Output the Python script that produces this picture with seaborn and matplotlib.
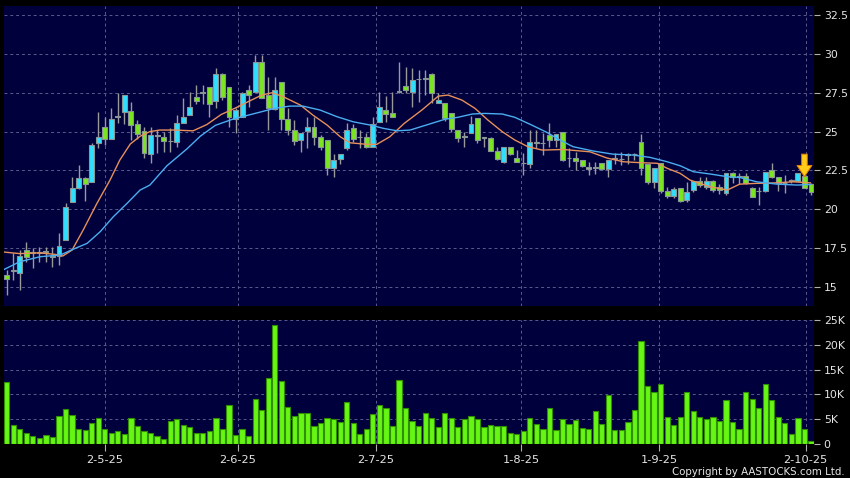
import numpy as np
import pandas as pd
import seaborn as sns
import matplotlib
matplotlib.use("Agg")
import matplotlib.pyplot as plt
from matplotlib.ticker import FuncFormatter

# daily candles (HKD), one per trading day
opens = [15.77, 16.05, 15.9, 17.38, 17.2, 17.2, 17.27, 16.95, 17.0, 18.02,
         20.5, 21.35, 21.99, 21.75, 24.28, 25.31, 24.5, 25.96, 26.24, 26.34,
         25.47, 25.05, 23.54, 24.71, 24.63, 24.37, 24.35, 25.53, 26.07, 27.24,
         27.48, 27.84, 26.97, 28.68, 27.88, 25.79, 25.96, 27.67, 27.53, 29.5,
         27.35, 26.43, 28.21, 25.79, 25.1, 24.46, 25.03, 25.27, 24.67, 24.46,
         22.64, 23.21, 23.92, 25.21, 24.63, 24.63, 24.03, 25.63, 26.39, 26.21,
         27.57, 27.95, 27.57, 28.36, 28.38, 28.7, 26.82, 26.82, 26.17, 25.1,
         24.67, 24.93, 25.85, 24.6, 24.57, 23.77, 23.06, 24.03, 23.28, 22.96,
         22.9, 24.28, 24.24, 24.78, 24.46, 24.95, 23.28, 23.28, 23.17, 22.7,
         22.67, 23.0, 22.57, 23.3, 23.21, 23.49, 23.54, 24.35, 22.91, 21.77,
         22.96, 21.17, 20.85, 21.35, 20.6, 21.24, 21.84, 21.45, 21.84, 21.45,
         21.07, 22.31, 22.1, 22.14, 21.35, 21.17, 21.2, 22.53, 22.06, 21.67,
         21.88, 21.84, 22.14, 21.6]
highs = [16.09, 17.2, 17.38, 17.9, 17.5, 17.57, 17.6, 17.6, 18.5, 20.4,
         22.1, 22.85, 22.1, 24.28, 26.28, 25.96, 26.5, 27.48, 27.35, 26.92,
         25.74, 25.31, 25.31, 25.1, 25.0, 25.23, 26.06, 27.14, 27.57, 28.0,
         28.0, 27.84, 29.07, 28.75, 27.88, 26.5, 27.57, 28.0, 29.93, 29.93,
         28.53, 28.53, 28.21, 26.5, 25.74, 24.9, 25.96, 25.96, 24.75, 24.46,
         23.55, 23.54, 25.53, 25.5, 25.1, 24.9, 25.96, 27.57, 27.3, 27.57,
         29.5, 29.17, 29.07, 28.96, 28.96, 28.75, 27.46, 26.85, 26.2, 25.1,
         25.0, 26.0, 25.85, 24.6, 24.67, 24.03, 24.03, 24.03, 23.81, 23.6,
         25.1, 25.1, 24.9, 25.53, 24.82, 24.95, 23.92, 23.7, 23.2, 23.06,
         23.06, 23.0, 23.17, 23.6, 23.7, 23.6, 23.6, 24.84, 22.91, 22.64,
         22.96, 21.45, 21.45, 21.35, 21.77, 21.84, 22.1, 22.05, 21.9, 21.6,
         22.35, 22.42, 22.31, 22.31, 21.45, 21.45, 22.38, 22.96, 22.06, 22.2,
         21.95, 22.35, 22.14, 21.7]
lows = [14.48, 15.45, 14.8, 16.6, 16.2, 16.6, 16.6, 16.3, 16.4, 18.0,
        20.5, 21.3, 20.55, 21.75, 23.92, 24.13, 24.5, 25.55, 25.5, 24.46,
        24.5, 23.28, 22.99, 23.6, 23.7, 23.7, 24.03, 25.53, 26.07, 26.8,
        26.8, 25.96, 26.5, 27.03, 25.31, 24.93, 25.96, 26.6, 27.53, 27.14,
        25.1, 26.39, 25.1, 24.78, 24.13, 23.7, 23.92, 24.13, 23.8, 22.2,
        22.1, 22.9, 23.81, 24.3, 23.92, 23.95, 24.03, 25.63, 25.63, 25.96,
        27.46, 27.46, 26.6, 26.92, 27.35, 26.84, 26.82, 25.7, 25.0, 24.35,
        23.99, 24.93, 24.24, 23.99, 23.77, 23.15, 23.0, 23.5, 23.06, 22.2,
        22.65, 23.92, 23.5, 24.03, 24.03, 23.1, 22.74, 22.53, 22.7, 22.2,
        22.3, 22.5, 22.1, 22.9, 22.85, 22.9, 23.2, 22.2, 21.6, 21.4,
        21.07, 20.7, 20.7, 20.45, 20.5, 21.13, 21.45, 21.3, 21.1, 21.0,
        20.95, 21.7, 21.6, 21.6, 20.81, 20.27, 21.1, 22.0, 21.2, 21.02,
        21.7, 21.8, 21.35, 20.92]
closes = [15.51, 16.05, 17.0, 16.93, 17.2, 17.2, 17.27, 17.02, 17.66, 20.16,
          21.4, 21.99, 21.6, 24.13, 24.67, 24.5, 25.79, 25.96, 27.35, 25.42,
          24.84, 23.6, 24.78, 24.71, 24.39, 24.37, 25.53, 25.96, 26.6, 26.97,
          27.48, 26.77, 28.7, 27.24, 25.96, 26.39, 27.46, 27.35, 29.5, 27.14,
          26.5, 27.67, 25.79, 25.1, 24.41, 24.89, 25.27, 24.67, 23.99, 22.64,
          23.17, 23.54, 25.1, 24.5, 24.63, 24.03, 25.49, 26.6, 26.11, 25.96,
          27.57, 27.7, 28.3, 28.36, 28.38, 27.46, 27.03, 25.85, 25.14, 24.57,
          24.67, 25.47, 24.46, 24.6, 23.77, 23.21, 24.03, 23.56, 23.06, 22.96,
          24.3, 24.28, 24.24, 24.46, 24.82, 23.17, 23.28, 23.13, 22.78, 22.62,
          22.67, 22.57, 23.17, 23.25, 23.21, 23.49, 23.54, 22.64, 21.77, 22.64,
          21.2, 20.85, 21.28, 20.55, 21.13, 21.84, 21.56, 21.84, 21.24, 21.24,
          22.35, 22.1, 22.1, 21.71, 20.81, 21.17, 22.38, 22.06, 21.67, 21.67,
          21.8, 22.35, 21.35, 21.13]
# volume in thousands of shares
volume_k = [12.5, 3.7, 3.0, 2.2, 1.5, 1.2, 1.7, 1.35, 5.5, 7.0,
            5.7, 2.85, 2.7, 4.1, 5.1, 2.85, 2.1, 2.6, 2.0, 5.1,
            3.5, 2.5, 2.2, 1.55, 0.9, 4.5, 4.9, 3.8, 3.4, 2.2,
            2.2, 2.6, 5.1, 2.85, 7.9, 1.7, 2.85, 1.5, 9.1, 6.75,
            13.3, 24.0, 12.7, 7.4, 5.6, 6.15, 6.2, 3.6, 4.2, 5.1,
            4.9, 4.3, 8.4, 4.1, 1.9, 2.9, 5.9, 7.8, 7.1, 3.6,
            12.8, 7.3, 4.6, 3.5, 6.1, 5.1, 3.25, 6.1, 5.1, 3.4,
            4.9, 5.5, 4.9, 3.4, 3.7, 3.45, 3.6, 2.2, 1.9, 2.6,
            5.1, 4.0, 3.0, 7.1, 2.7, 4.9, 3.9, 4.7, 3.1, 2.9,
            6.55, 3.95, 9.8, 2.7, 2.75, 4.4, 6.75, 20.8, 11.75, 10.4,
            12.0, 5.4, 3.7, 5.4, 10.4, 6.5, 5.4, 5.0, 5.4, 4.5,
            8.8, 4.4, 3.0, 10.5, 9.0, 7.2, 12.0, 8.85, 5.3, 4.1,
            1.9, 5.1, 2.9, 0.5]

# moving average lines, read at points along the curves (bar position, price)
ma_fast_pos = [-0.4, 2, 5, 7.4, 8.6, 10, 11.7, 13.8, 15.8, 17.3, 18.9, 20.4,
               21.9, 23.4, 25.7, 28.5, 30.6, 32.8, 34.9, 36.9, 39, 40.6, 42.3,
               44.9, 46.8, 49, 51, 52.5, 55.1, 56.6, 58.6, 60.8, 63.5, 66, 67.5,
               69.6, 71.6, 73.6, 75.8, 77.7, 79.7, 81.9, 85.1, 89.2, 91.8, 94.3,
               96.9, 99.5, 101, 103, 104.5, 107.6, 110.2, 112.1, 114.7, 117.5,
               120.3, 122.9]
ma_fast = [17.25, 17.15, 17.2, 17.1, 17.0, 17.38, 18.67, 20.38, 21.88, 23.17,
           24.2, 24.7, 25.0, 25.1, 25.1, 25.05, 25.45, 26.1, 26.5, 26.92,
           27.35, 27.5, 27.24, 26.71, 26.07, 25.42, 24.67, 24.28, 24.18, 24.18,
           24.67, 25.53, 26.39, 27.28, 27.35, 27.03, 26.5, 25.74, 24.99, 24.46,
           24.03, 23.81, 23.85, 23.7, 23.3, 23.06, 23.0, 22.96, 22.64, 22.31,
           21.88, 21.45, 21.24, 21.62, 21.67, 21.7, 21.77, 21.7]
ma_slow_pos = [-0.4, 2, 5.1, 8.2, 10.1, 12.3, 14.3, 16.3, 18.4, 20.4, 21.9,
               24.5, 27.6, 29.6, 31.9, 34.5, 36.4, 39, 41, 43.3, 45.3, 47.9,
               50.5, 53, 55.6, 57.6, 59.7, 61.7, 65, 67, 69, 71.2, 73.1, 75.8,
               77.7, 80.3, 82.6, 84.6, 86.6, 89.7, 92.7, 95.8, 98.4, 101, 103,
               105, 107.6, 110.2, 112.1, 114.7, 117.8, 120.9, 122.9]
ma_slow = [16.13, 16.63, 16.95, 17.06, 17.42, 17.81, 18.56, 19.52, 20.38,
           21.24, 21.56, 22.8, 23.9, 24.7, 25.4, 25.79, 26.0, 26.28, 26.5,
           26.64, 26.64, 26.39, 25.96, 25.63, 25.42, 25.21, 25.05, 25.1, 25.53,
           25.79, 25.92, 26.13, 26.17, 26.13, 25.92, 25.42, 24.95, 24.46, 24.03,
           23.75, 23.55, 23.49, 23.34, 23.06, 22.8, 22.42, 22.27, 22.1, 22.05,
           21.77, 21.62, 21.56, 21.6]

date_pos = [15, 35.3, 56.5, 78.7, 99.8, 122.2]
date_labels = ["2-5-25", "2-6-25", "2-7-25", "1-8-25", "1-9-25", "2-10-25"]
price_ticks = [15, 17.5, 20, 22.5, 25, 27.5, 30, 32.5]
vol_ticks = [0, 5, 10, 15, 20, 25]

BG = "#00003c"
GRID = "#5a5a8c"
TXT = "#e6e6e6"
UP = "#2ee0ff"
DOWN = "#7ae61e"
FLAT = "#a8a8a8"

df = pd.DataFrame({"open": opens, "high": highs, "low": lows,
                   "close": closes, "vol": volume_k})
df["idx"] = np.arange(len(df))
diff = df["close"] - df["open"]
df["color"] = np.where(diff >= 0.1, UP, np.where(diff <= -0.1, DOWN, FLAT))
df["body_lo"] = df[["open", "close"]].min(axis=1)
df["body_h"] = diff.abs().clip(lower=0.04)

fig = plt.figure(figsize=(8.5, 4.78), dpi=100, facecolor="black")
ax = fig.add_axes([4 / 850, 1 - 306 / 478, 810 / 850, 300 / 478])
axv = fig.add_axes([4 / 850, 1 - 443.5 / 478, 810 / 850, 124 / 478])

for a in (ax, axv):
    a.set_facecolor(BG)
    for s in a.spines.values():
        s.set_visible(False)
    a.set_axisbelow(True)
    a.grid(True, color=GRID, linestyle=(0, (3, 3)), linewidth=0.7)
    a.set_xlim(-0.41, 123.46)
    a.set_xticks(date_pos)
    a.yaxis.tick_right()
    a.tick_params(axis="y", colors="#b0b0b0", labelcolor=TXT, length=4,
                  width=0.8, pad=3, labelsize=7.8)

# candles
ax.vlines(df["idx"], df["low"], df["high"], color="#9a9a9a", linewidth=1,
          zorder=2)
ax.bar(df["idx"], df["body_h"], bottom=df["body_lo"], width=0.75,
       color=df["color"], edgecolor="#8a9696", linewidth=0.8, zorder=3)

sns.lineplot(x=ma_fast_pos, y=ma_fast, ax=ax, color="#e8905a",
             linewidth=1.0, zorder=4)
sns.lineplot(x=ma_slow_pos, y=ma_slow, ax=ax, color="#4aaef0",
             linewidth=1.0, zorder=4)

ax.annotate("", xy=(122, 22.1), xytext=(122, 23.55),
            arrowprops=dict(arrowstyle="simple,head_length=0.9,head_width=1.2,tail_width=0.45",
                            fc="#ffcc1a", ec="#e07a00", lw=0.7,
                            shrinkA=0, shrinkB=0, mutation_scale=9),
            zorder=5)

ax.set_ylim(13.78, 33.08)
ax.set_yticks(price_ticks)
ax.yaxis.set_major_formatter(FuncFormatter(lambda v, p: f"{v:g}"))
ax.tick_params(axis="x", length=0, labelbottom=False)
ax.set_xlabel("")
ax.set_ylabel("")

# volume
sns.barplot(data=df, x="idx", y="vol", ax=axv, native_scale=True,
            color="#66f514", edgecolor="#2f8f00", linewidth=0.8,
            saturation=1, errorbar=None, width=0.8)
axv.set_xlim(-0.41, 123.46)
axv.set_ylim(0, 25.15)
axv.set_yticks(vol_ticks)
axv.yaxis.set_major_formatter(FuncFormatter(lambda v, p: "0" if v == 0 else f"{v:g}K"))
axv.set_xticks(date_pos)
axv.set_xticklabels(date_labels)
axv.tick_params(axis="x", colors="#b0b0b0", labelcolor=TXT, length=5,
                width=0.8, pad=3, labelsize=8.2)
axv.set_xlabel("")
axv.set_ylabel("")

fig.text(0.994, 0.003, "Copyright by AASTOCKS.com Ltd.", color=TXT,
         fontsize=7.4, ha="right", va="bottom")

fig.savefig("out.png", dpi=100, facecolor="black")
